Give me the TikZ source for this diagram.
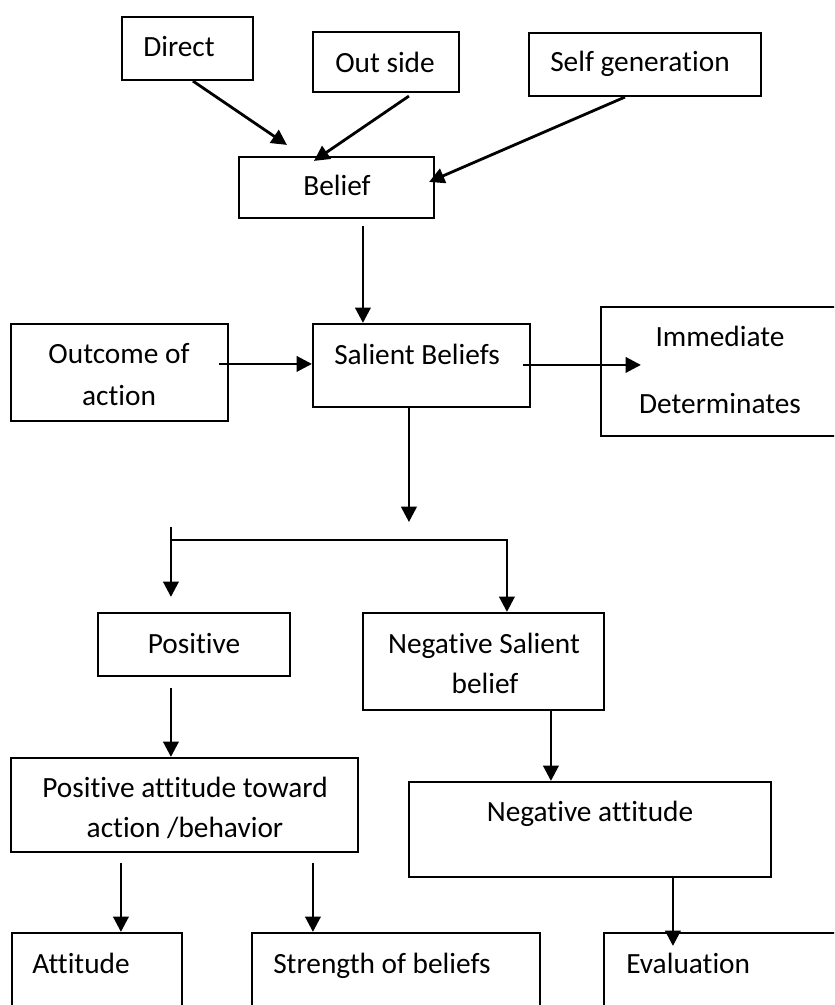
\documentclass[tikz,border=0pt]{standalone}
\usepackage{fontspec}
\setmainfont{Carlito}[Ligatures={NoCommon,NoRare,NoContextual}]
\usetikzlibrary{arrows.meta,calc,fit}
\begin{document}
\begin{tikzpicture}[x=0.75pt,y=-0.75pt,
  box/.style={draw=black, line width=1.6pt, inner sep=0pt, rectangle},
  txt/.style={inner sep=0pt, font=\fontsize{22}{26}\selectfont},
  arr/.style={line width=2.1pt, -{Triangle[length=11.5pt,width=11.5pt]}}]
\useasboundingbox (0,0) rectangle (834,1005);
\fill[white] (0,0) rectangle (834,1005);
\clip (0,0) rectangle (834,1005);

% boxes
\node[box, fit={(122,17) (253,80)}] (direct) {};
\node[box, fit={(313,32) (459,92)}] (outside) {};
\node[box, fit={(529,33) (761,96)}] (selfgen) {};
\node[box, fit={(239,157) (434,218)}] (belief) {};
\node[box, fit={(11,324) (228,421)}] (outcome) {};
\node[box, fit={(313,324) (530,407)}] (salient) {};
\node[box, fit={(601,307) (845,436)}] (immediate) {};
\node[box, fit={(98,613) (290,676)}] (positive) {};
\node[box, fit={(363,613) (604,710)}] (negsal) {};
\node[box, fit={(11,758) (358,852)}] (posatt) {};
\node[box, fit={(409,782) (771,877)}] (negatt) {};
\node[box, fit={(12,933) (182,1020)}] (attitude) {};
\node[box, fit={(252,933) (540,1020)}] (strength) {};
\node[box, fit={(604,933) (845,1020)}] (evaluation) {};

% texts
\node[txt, anchor=base west] (tdirect) at (143,57) {Direct};
\node[txt, anchor=base west] (toutside) at (335,73) {Out side};
\node[txt, anchor=base west] (tselfgen) at (550,72) {Self generation};
\node[txt, anchor=base] (tbelief) at (337,196) {Belief};
\node[txt, anchor=base] (toutcomea) at (119,363) {Outcome of};
\node[txt, anchor=base] (toutcomeb) at (119,405) {action};
\node[txt, anchor=base west] (tsalient) at (334,364) {Salient Beliefs};
\node[txt, anchor=base] (timmeda) at (720,346) {Immediate};
\node[txt, anchor=base] (timmedb) at (720,413) {Determinates};
\node[txt, anchor=base] (tpositive) at (194,653) {Positive};
\node[txt, anchor=base] (tnegsala) at (484,653) {Negative Salient};
\node[txt, anchor=base] (tnegsalb) at (485,693) {belief};
\node[txt, anchor=base] (tposatta) at (185,797) {Positive attitude toward};
\node[txt, anchor=base] (tposattb) at (185,837) {action /behavior};
\node[txt, anchor=base] (tnegatt) at (590,821) {Negative attitude};
\node[txt, anchor=base west] (tattitude) at (32,973) {Attitude};
\node[txt, anchor=base west] (tstrength) at (273,973) {Strength of beliefs};
\node[txt, anchor=base west] (tevaluation) at (626,973) {Evaluation};

% connectors
\draw[arr] ($(direct.south west)+(72,0)$) -- ($(belief.north west)+(49,-11)$);
\draw[arr] ($(outside.south west)+(97,3)$) -- ($(belief.north west)+(76,5)$);
\draw[arr] ($(selfgen.south west)+(97,0)$) -- ($(belief.north east)+(-6,26)$);
\draw[arr] ($(belief.south west)+(125,7)$) -- ($(salient.north west)+(51,0)$);
\draw[arr] ($(outcome.north east)+(-10,41)$) -- ($(salient.north west)+(0,41)$);
\draw[arr] ($(salient.north east)+(-8,42)$) -- ($(immediate.north west)+(41,59)$);
\coordinate (split) at ($(salient.south west)+(97,114)$);
\draw[arr] ($(salient.south west)+(97,0)$) -- (split);
\coordinate (bltop) at ($(positive.north west)+(74,-85)$);
\coordinate (bjoin) at ($(positive.north west)+(74,-72)$);
\draw[arr] (bltop) -- ($(positive.north west)+(74,-15)$);
\draw[arr] (bjoin) -| ($(negsal.north west)+(145,0)$);
\draw[arr] ($(positive.south west)+(74,11)$) -- ($(posatt.north west)+(161,0)$);
\draw[arr] ($(negsal.south west)+(189,0)$) -- ($(negatt.north west)+(143,0)$);
\draw[arr] ($(posatt.south west)+(111,10)$) -- ($(attitude.north west)+(110,0)$);
\draw[arr] ($(posatt.south west)+(303,10)$) -- ($(strength.north west)+(62,0)$);
\draw[arr] ($(negatt.south west)+(265,0)$) -- ($(evaluation.north west)+(70,14)$);
\end{tikzpicture}
\end{document}
